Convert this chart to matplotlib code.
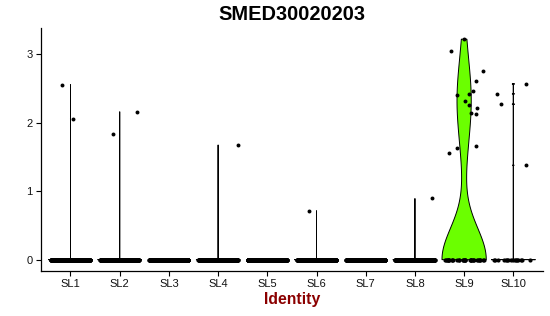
import numpy as np
import matplotlib
matplotlib.use("Agg")
import matplotlib.pyplot as plt

plt.rcParams['font.family'] = ['Liberation Sans', 'DejaVu Sans']

# groups on the x axis
groups = ['SL1', 'SL2', 'SL3', 'SL4', 'SL5', 'SL6', 'SL7', 'SL8', 'SL9', 'SL10']

# number of cells with zero expression in each group (estimated)
zero_counts = [400, 380, 360, 350, 420, 330, 370, 340, 33, 16]

# non-zero expression values per group
nonzero = [
    [2.556, 2.055],
    [1.836, 2.160],
    [],
    [1.675],
    [],
    [0.715],
    [],
    [0.893],
    [3.219, 3.05, 2.75, 2.605, 2.46, 2.42, 2.40, 2.31, 2.264, 2.22,
     2.14, 2.13, 1.665, 1.63, 1.55],
    [2.566, 2.42, 2.27, 1.378],
]

# horizontal jitter of the non-zero points (as drawn)
nonzero_jitter = [
    [-0.18, 0.06],
    [-0.13, 0.36],
    [],
    [0.40],
    [],
    [-0.16],
    [],
    [0.34],
    [0.0, -0.27, 0.39, 0.24, 0.19, 0.09, -0.14, 0.01, 0.10, 0.26,
     0.13, 0.25, 0.24, -0.14, -0.31],
    [0.26, -0.33, -0.25, 0.26],
]

fills = ['#F8766D', '#D89000', '#A3A500', '#39B600', '#00BF7D',
         '#00BFC4', '#00B0F6', '#9590FF', '#6BFF00', '#FF62BC']


def bw_nrd0(x):
    # R's bw.nrd0; Seurat adds ~1e-5 noise, so a zero IQR means a ~1e-5 spread
    hi = np.std(x, ddof=1)
    q75, q25 = np.percentile(x, [75, 25])
    lo = min(hi, (q75 - q25) / 1.34)
    if lo == 0:
        lo = 1e-5
    return 0.9 * lo * len(x) ** -0.2


def r_density(x, n=512):
    # binned gaussian kde like stats::density, trimmed to the data range
    bw = bw_nrd0(x)
    frm, to = x.min(), x.max()
    lo, up = frm - 4 * bw, to + 4 * bw
    grid = np.linspace(lo, up, n)
    delta = (up - lo) / (n - 1)
    pos = (x - lo) / delta
    ix = np.floor(pos).astype(int)
    fx = pos - ix
    y = np.zeros(n + 1)
    np.add.at(y, ix, (1 - fx) / len(x))
    np.add.at(y, ix + 1, fx / len(x))
    y = y[:n]
    d = grid[:, None] - grid[None, :]
    k = np.exp(-0.5 * (d / bw) ** 2) / (bw * np.sqrt(2 * np.pi))
    dens = k @ y
    out = np.linspace(frm, to, n)
    return out, np.interp(out, grid, dens)


fig = plt.figure(figsize=(5.5, 3.16), dpi=100)
ax = fig.add_axes([0.0745, 0.1434, 0.9125, 0.7676])

rng = np.random.default_rng(7)
ymax = 0
for i, g in enumerate(groups):
    xc = i + 1
    vals = np.concatenate([np.zeros(zero_counts[i]), np.array(nonzero[i])])
    ymax = max(ymax, vals.max())
    if vals.max() > vals.min():
        yy, dd = r_density(vals)
        w = dd / dd.max() * 0.45
        xs = np.concatenate([xc + w, (xc - w)[::-1]])
        ys = np.concatenate([yy, yy[::-1]])
        ax.fill(xs, ys, facecolor=fills[i], edgecolor='black', linewidth=0.7,
                zorder=2)
    # jittered points
    zx = xc + rng.uniform(-0.4, 0.4, zero_counts[i])
    ax.scatter(zx, np.zeros(zero_counts[i]), s=9, color='black',
               linewidths=0, zorder=3)
    if nonzero[i]:
        ax.scatter(xc + np.array(nonzero_jitter[i]), nonzero[i], s=8,
                   color='black', linewidths=0, zorder=3)

pad = ymax * 0.05
ax.set_ylim(-pad, ymax + pad)
ax.set_xlim(0.4, len(groups) + 0.6)
ax.set_xticks(range(1, len(groups) + 1))
ax.set_xticklabels(groups)
ax.set_yticks([0, 1, 2, 3])

for side in ['top', 'right']:
    ax.spines[side].set_visible(False)
for side in ['left', 'bottom']:
    ax.spines[side].set_linewidth(0.9)
    ax.spines[side].set_color('black')
ax.tick_params(axis='both', direction='out', length=3.5, width=0.8,
               color='black', labelsize=8, labelcolor='#111111', pad=2.5)

fig.text(0.531, 0.955, 'SMED30020203', ha='center', va='center',
         fontsize=14.4, fontweight='bold')
fig.text(0.531, 0.052, 'Identity', ha='center', va='center',
         fontsize=11.3, fontweight='bold', color='#8B0000')

fig.savefig('out.png', dpi=100)
